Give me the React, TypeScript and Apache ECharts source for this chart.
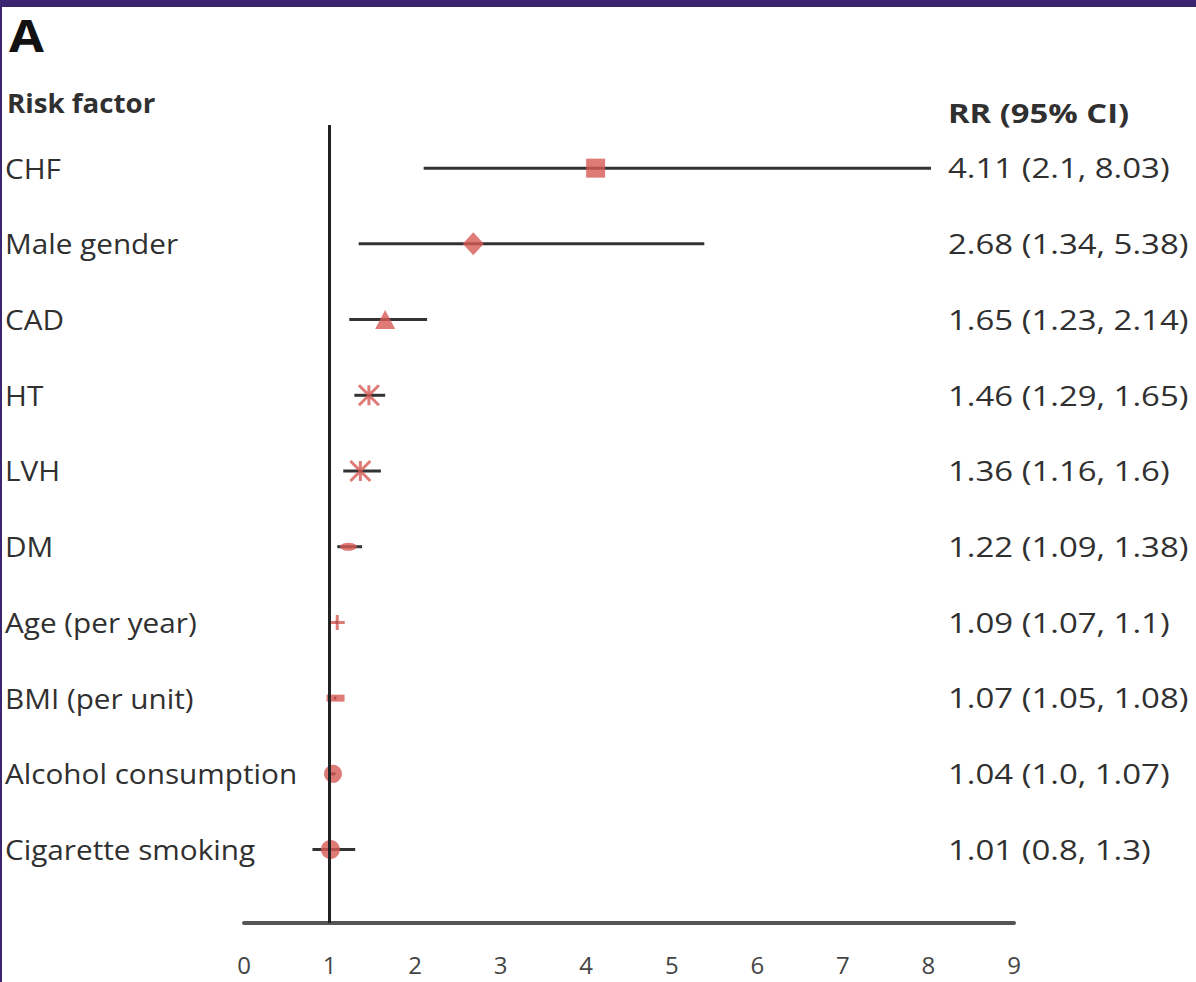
import React, { useEffect, useRef } from "react";
import * as echarts from "echarts";

const factors = [
  "CHF",
  "Male gender",
  "CAD",
  "HT",
  "LVH",
  "DM",
  "Age (per year)",
  "BMI (per unit)",
  "Alcohol consumption",
  "Cigarette smoking",
];
const rr = [4.11, 2.68, 1.65, 1.46, 1.36, 1.22, 1.09, 1.07, 1.04, 1.01];
const ciLow = [2.1, 1.34, 1.23, 1.29, 1.16, 1.09, 1.07, 1.05, 1.0, 0.8];
const ciHigh = [8.03, 5.38, 2.14, 1.65, 1.6, 1.38, 1.1, 1.08, 1.07, 1.3];
const rrLabels = [
  "4.11 (2.1, 8.03)",
  "2.68 (1.34, 5.38)",
  "1.65 (1.23, 2.14)",
  "1.46 (1.29, 1.65)",
  "1.36 (1.16, 1.6)",
  "1.22 (1.09, 1.38)",
  "1.09 (1.07, 1.1)",
  "1.07 (1.05, 1.08)",
  "1.04 (1.0, 1.07)",
  "1.01 (0.8, 1.3)",
];
const xMin = 0;
const xMax = 9;

const RED = "#d65a55";
const ASTERISK = "path://M0,0 L10,10 M10,0 L0,10 M5,0 L5,10";
const PLUS = "path://M4,0 H6 V4 H10 V6 H6 V10 H4 V6 H0 V4 H4 Z";

const markerStyles: any[] = [
  { symbol: "rect", symbolSize: 19 },
  { symbol: "diamond", symbolSize: [21, 23] },
  { symbol: "triangle", symbolSize: [20, 19] },
  { symbol: ASTERISK, symbolSize: 20, stroke: true },
  { symbol: ASTERISK, symbolSize: 20, stroke: true },
  { symbol: "circle", symbolSize: [17, 8] },
  { symbol: PLUS, symbolSize: 15 },
  { symbol: "rect", symbolSize: [18, 7] },
  { symbol: "circle", symbolSize: 18 },
  { symbol: "circle", symbolSize: 19 },
];

const FONT = "'Open Sans'";
const TEXT = "#303030";

export default function App() {
  const ref = useRef<HTMLDivElement>(null);
  useEffect(() => {
    document.body.style.margin = "0";
    const chart = echarts.init(ref.current!, null, { renderer: "svg" });
    const option: any = {
      animation: false,
      backgroundColor: "#ffffff",
      grid: { left: 244, right: 182, top: 125, bottom: 59 },
      xAxis: {
        type: "value",
        min: xMin,
        max: xMax,
        interval: 1,
        axisLine: { show: true, onZero: false, lineStyle: { color: "#555555", width: 4 } },
        axisTick: { show: false },
        splitLine: { show: false },
        axisLabel: {
          margin: 29,
          fontSize: 24,
          color: "#444444",
          fontFamily: FONT,
        },
      },
      yAxis: {
        type: "value",
        inverse: true,
        min: -0.57,
        max: 9.97,
        show: false,
      },
      series: [
        {
          type: "custom",
          data: ciLow.map((l, i) => [l, ciHigh[i], i]),
          encode: { x: [0, 1], y: 2 },
          renderItem: (params: any, api: any) => {
            const y = api.value(2);
            const p1 = api.coord([api.value(0), y]);
            const p2 = api.coord([api.value(1), y]);
            return {
              type: "line",
              shape: { x1: p1[0], y1: p1[1], x2: p2[0], y2: p2[1] },
              style: { stroke: "#333333", lineWidth: 3 },
            };
          },
          markLine: {
            silent: true,
            symbol: "none",
            label: { show: false },
            lineStyle: { color: "#222222", width: 3, type: "solid" },
            data: [{ xAxis: 1 }],
          },
          z: 2,
        },
        {
          type: "scatter",
          z: 3,
          data: rr.map((v, i) => {
            const m = markerStyles[i];
            return {
              value: [v, i],
              symbol: m.symbol,
              symbolSize: m.symbolSize,
              itemStyle: m.stroke
                ? { color: "rgba(0,0,0,0)", borderColor: RED, borderWidth: 3 }
                : { color: RED },
            };
          }),
        },
      ],
    };
    chart.setOption(option);

    const graphics: any[] = [
      { type: "rect", shape: { x: 0, y: 0, width: 1196, height: 7 }, style: { fill: "#3b2570" } },
      { type: "rect", shape: { x: 0, y: 0, width: 2, height: 982 }, style: { fill: "#3b2570" } },
      {
        type: "text",
        x: 9,
        y: 35,
        scaleX: 1.15,
        style: { text: "A", font: `bold 44px ${FONT}`, fill: "#111111", verticalAlign: "middle" },
      },
      {
        type: "text",
        x: 7,
        y: 103,
        scaleX: 1.065,
        style: { text: "Risk factor", font: `bold 26px ${FONT}`, fill: TEXT, verticalAlign: "middle" },
      },
      {
        type: "text",
        x: 948,
        y: 113,
        scaleX: 1.26,
        style: { text: "RR (95% CI)", font: `bold 26px ${FONT}`, fill: TEXT, verticalAlign: "middle" },
      },
    ];
    factors.forEach((name, i) => {
      const y = chart.convertToPixel({ gridIndex: 0 }, [0, i])[1];
      graphics.push({
        type: "text",
        x: 5,
        y,
        scaleX: 1.1,
        style: { text: name, font: `27px ${FONT}`, fill: TEXT, verticalAlign: "middle" },
      });
      graphics.push({
        type: "text",
        x: 948,
        y,
        scaleX: 1.22,
        style: { text: rrLabels[i], font: `27px ${FONT}`, fill: TEXT, verticalAlign: "middle" },
      });
    });
    chart.setOption({ graphic: graphics });
    return () => chart.dispose();
  }, []);
  return <div ref={ref} style={{ width: 1196, height: 982 }} />;
}
